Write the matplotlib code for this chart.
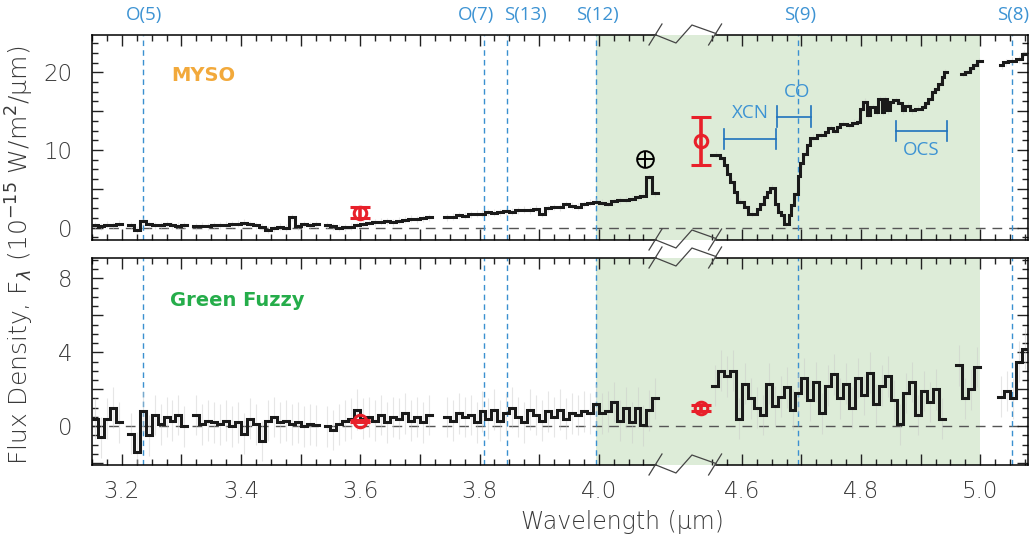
import numpy as np
import matplotlib
matplotlib.use("Agg")
import matplotlib.pyplot as plt
from matplotlib.ticker import FixedLocator, NullFormatter, FixedFormatter

nan = np.nan

# ---------------- data ----------------
SHIFT = 0.36          # wavelength removed by the axis break (um)
BREAK_LO, BREAK_HI = 4.096, 4.196   # break limits in plotted coordinate

# left part: bins of 0.01 um from 3.15 to 4.10
left_edges = np.round(np.arange(3.15, 4.1001, 0.01), 3)
myso_left = [0.3, 0.2, 0.35, 0.3, 0.5, nan,
             0.3, -0.3, 0.8, 0.4, 0.3, 0.3, 0.45, 0.3, 0.25, 0.3, nan,
             0.2, 0.25, 0.2, 0.3, 0.3, 0.35, 0.4, 0.5, 0.65, 0.4, 0.3, 0.1, -0.25, -0.1,
             0.1, 0.0, 1.3, 0.2, 0.4, 0.3, 0.45, nan,
             0.3, 0.2, 0.0, 0.05, 0.1, 0.3, 0.5, 0.6, 0.7, 0.75, 0.8, 0.7, 0.9, 1.0,
             1.15, 1.1, 1.2, 1.35, nan, nan,
             1.35, 1.4, 1.6, 1.55, 1.7, 1.8, 1.75, 2.0, 1.9, 2.0,
             2.1, 2.05, 2.2, 2.3, 2.2, 2.4, 1.8, 2.5, 2.65, 2.6,
             3.0, 2.8, 2.7, 3.0, 3.2, 3.3, 3.2, 3.1, 3.4, 3.5,
             3.6, 3.7, 3.9, 4.1, 6.5, 4.4]
fuzzy_left = [0.4, -0.6, 0.4, 1.0, 0.2, nan,
              -0.4, -1.4, 0.8, -0.5, 0.6, 0.1, 0.5, 0.3, 0.6, 0.0, nan,
              0.6, 0.1, 0.3, 0.2, 0.1, 0.3, 0.0, 0.2, -0.4, 0.4, 0.1, -0.8, 0.3, 0.5,
              0.2, 0.3, 0.1, 0.2, 0.0, 0.1, 0.05, nan,
              0.0, -0.2, 0.1, 0.3, 0.4, 0.9, 0.4, 0.5, 0.3, 0.6, 0.2, 0.5, 0.4, 0.7,
              0.3, 0.5, 0.2, 0.6, nan, nan,
              0.5, 0.3, 0.7, 0.5, 0.6, 0.2, 0.8, 0.4, 0.9, 0.3,
              0.7, 1.0, 0.5, 0.2, 0.9, 0.6, 0.3, 0.8, 0.5, 0.9,
              0.4, 0.7, 0.6, 0.8, 0.7, 1.2, 0.7, 0.8, 1.3, 0.3,
              1.0, 0.2, 1.0, 0.05, 0.85, 1.5]

# right part (MYSO): bin edges (um)
myso_right_edges = [4.5487, 4.5638, 4.5694, 4.5750, 4.5805, 4.5861, 4.5917, 4.6029, 4.6101, 4.6252,
                    4.6308, 4.6364, 4.6420, 4.6475, 4.6548, 4.6604, 4.6660, 4.6699, 4.6783, 4.6827,
                    4.6883, 4.6939, 4.6978, 4.7034, 4.7090, 4.7146, 4.7257, 4.7397, 4.7453, 4.7536,
                    4.7592, 4.7648, 4.7760, 4.7843, 4.7927, 4.7983, 4.8039, 4.8095, 4.8150, 4.8234,
                    4.8290, 4.8346, 4.8385, 4.8430, 4.8486, 4.8541, 4.8625, 4.8681, 4.8737, 4.8821,
                    4.8904, 4.9016, 4.9072, 4.9128, 4.9184, 4.9239, 4.9295, 4.9351, 4.9396, 4.9435,
                    4.9675, 4.9742, 4.9826, 4.9881, 4.9937, 5.0021,
                    5.0328, 5.0384, 5.0468, 5.0607, 5.0691, 5.0786]
myso_right = [9.4, 8.9, 8.0, 6.9, 5.9, 4.6, 3.3, 2.65, 1.8, 2.45,
              3.1, 3.9, 4.6, 5.1, 3.1, 2.0, 1.6, 0.4, 1.6, 2.9,
              4.3, 6.7, 8.3, 9.5, 10.6, 11.6, 11.9, 12.3, 12.8, 12.5,
              12.9, 13.4, 13.2, 13.5, 13.6, 15.3, 16.2, 14.5, 15.5, 14.9,
              16.5, 14.9, 16.5, 15.1, 16.2, 16.4, 16.0, 15.1, 15.7, 15.1,
              15.3, 15.5, 16.0, 16.6, 17.5, 17.9, 18.5, 19.4, 20.0, nan,
              19.8, 20.0, 20.5, 20.9, 21.4, nan,
              20.9, 21.3, 21.5, 21.7, 22.4]

# right part (Green Fuzzy): bins of 0.01 um from 4.55 to 5.08
fuzzy_right_edges = np.round(np.arange(4.55, 5.0801, 0.01), 3)
fuzzy_right = [2.2, 3.0, 2.7, 3.0, 0.4, 2.3, 1.5, 1.0, 0.6, 2.3,
               1.1, 1.6, 2.1, 0.9, 1.8, 2.6, 1.4, 2.4, 0.7, 2.2,
               2.8, 1.5, 2.3, 1.0, 2.6, 1.7, 2.9, 1.2, 2.2, 2.7,
               1.4, 0.1, 1.8, 2.4, 0.6, 1.9, 1.3, 2.0, 0.4, nan,
               nan, 3.3, 1.5, 2.0, 3.2, nan, nan, nan, 1.6, 1.9,
               1.5, 3.5, 4.2]

# typical 1-sigma of the faint grey error bars
myso_err = 0.45
fuzzy_err = 1.1

# photometry (red points)
phot_wave = [3.60, 4.532]
myso_phot = [1.9, 11.1]
myso_phot_err = [0.7, 3.1]
fuzzy_phot = [0.3, 0.97]
fuzzy_phot_err = [0.05, 0.15]

# H2 line identifications
line_names = ["O(5)", "O(7)", "S(13)", "S(12)", "S(9)", "S(8)"]
line_waves = [3.2350, 3.8075, 3.8464, 3.9960, 4.6946, 5.0531]
label_offsets = [0.002, -0.013, 0.030, 0.002, 0.003, 0.002]

# ice features
feat_names = ["XCN", "CO", "OCS"]
feat_lo = [4.5706, 4.6594, 4.8587]
feat_hi = [4.6570, 4.7157, 4.9435]
feat_y = [11.4, 14.3, 12.4]
feat_text_y = [14.8, 17.4, 10.0]

# plotted region
shade_lo, shade_hi = 3.995, 5.0
xlim_real = (3.15, 5.08)

# ---------------- helpers ----------------
def tx(x):
    x = np.asarray(x, dtype=float)
    return np.where(x > 4.3, x - SHIFT, x)

def steps(edges, vals):
    edges = tx(edges)
    vals = np.asarray(vals, dtype=float)
    xs = np.repeat(edges, 2)[1:-1]
    ys = np.repeat(vals, 2)
    return xs, ys

def centers(edges):
    e = tx(edges)
    return 0.5 * (e[1:] + e[:-1])

# ---------------- figure ----------------
W, H = 1031, 545
fig = plt.figure(figsize=(W / 100, H / 100), dpi=100)
ax1 = fig.add_axes([92 / W, 1 - 240 / H, 936 / W, 205 / H])
ax2 = fig.add_axes([92 / W, 1 - 465 / H, 936 / W, 207 / H])

BLUE_TXT = "#3d93d3"
BLUE_LINE = "#3a90d0"
BRACKET = "#1f72bd"
RED = "#e8202a"
GREEN_BG = "#ddecd8"
TICKC = "#3a3a3a"

xl = (float(tx(xlim_real[0])), float(tx(xlim_real[1])))
panels = [(ax1, myso_left, myso_right_edges, myso_right, myso_err, myso_phot, myso_phot_err, (-1.6, 24.8)),
          (ax2, fuzzy_left, fuzzy_right_edges, fuzzy_right, fuzzy_err, fuzzy_phot, fuzzy_phot_err, (-2.1, 9.1))]

major_real = [3.2, 3.3, 3.4, 3.5, 3.6, 3.7, 3.8, 3.9, 4.0, 4.6, 4.7, 4.8, 4.9, 5.0]
minor_real = [v for v in np.round(np.arange(3.15, 5.08, 0.025), 3)
              if (v <= 4.08 or v >= 4.55) and v not in major_real]
label_real = {3.2: "3.2", 3.4: "3.4", 3.6: "3.6", 3.8: "3.8", 4.0: "4.0",
              4.6: "4.6", 4.8: "4.8", 5.0: "5.0"}

for ax, lv, redges, rv, err, ph, pherr, yl in panels:
    ax.set_xlim(*xl)
    ax.set_ylim(*yl)
    ax.axvspan(float(tx(shade_lo)), float(tx(shade_hi)), color=GREEN_BG, lw=0, zorder=0)
    ax.axhline(0, color="#555555", lw=1.0, ls=(0, (7, 5)), zorder=1)
    for w in line_waves:
        ax.axvline(float(tx(w)), color=BLUE_LINE, lw=1.0, ls=(0, (4, 3)), zorder=2)
    # faint error bars
    for edges, vals in [(left_edges, lv), (redges, rv)]:
        c = centers(edges)
        v = np.asarray(vals, dtype=float)
        ok = ~np.isnan(v)
        ax.vlines(c[ok], v[ok] - err, v[ok] + err, color="#c8c8c8", lw=0.8, alpha=0.45, zorder=2)
    for edges, vals in [(left_edges, lv), (redges, rv)]:
        xs, ys = steps(edges, vals)
        ax.plot(xs, ys, color="#1a1a1a", lw=2.2, zorder=4, solid_joinstyle="miter")
    ax.errorbar(tx(phot_wave), ph, yerr=pherr, fmt="o", ms=9, mfc="none", mec=RED, mew=2.2,
                ecolor=RED, elinewidth=2.6, capsize=7, capthick=2.6, zorder=6)

    # ticks
    ax.xaxis.set_major_locator(FixedLocator(tx(major_real)))
    ax.xaxis.set_minor_locator(FixedLocator(tx(minor_real)))
    ax.tick_params(which="both", direction="in", top=True, right=True, colors="#222222",
                   labelcolor=TICKC, labelsize=16.5)
    ax.tick_params(which="major", length=8, width=1.0)
    ax.tick_params(which="minor", length=4, width=1.0)
    ax.tick_params(axis="y", pad=14)
    ax.tick_params(axis="x", pad=11)

    # broken top/bottom spines
    ax.spines["top"].set_visible(False)
    ax.spines["bottom"].set_visible(False)
    for s in ["left", "right"]:
        ax.spines[s].set_linewidth(1.1)
    trans = ax.get_xaxis_transform()
    hpx = ax.get_position().height * H
    for y0 in (0.0, 1.0):
        ax.plot([xl[0], BREAK_LO], [y0, y0], color="black", lw=1.1, transform=trans, clip_on=False, zorder=7)
        ax.plot([BREAK_HI, xl[1]], [y0, y0], color="black", lw=1.1, transform=trans, clip_on=False, zorder=7)
        zx = [BREAK_LO, BREAK_LO + 20 / 597, BREAK_LO + 36 / 597, BREAK_LO + 60 / 597]
        zy = [y0, y0 - 8 / hpx, y0 + 10 / hpx, y0 + 1.5 / hpx]
        ax.plot(zx, zy, color="#444444", lw=0.9, transform=trans, clip_on=False, zorder=7)
        for xb in (BREAK_LO, BREAK_HI):
            ax.plot([xb - 7 / 597, xb + 6 / 597], [y0 - 10 / hpx, y0 + 11 / hpx], color="#444444",
                    lw=0.9, transform=trans, clip_on=False, zorder=7)

# y ticks
ax1.yaxis.set_major_locator(FixedLocator([0, 5, 10, 15, 20]))
ax1.yaxis.set_minor_locator(FixedLocator(np.arange(-1.25, 25, 1.25)))
ax1.yaxis.set_major_formatter(FixedFormatter(["0", "", "10", "", "20"]))
ax2.yaxis.set_major_locator(FixedLocator([-2, 0, 2, 4, 6, 8]))
ax2.yaxis.set_minor_locator(FixedLocator(np.arange(-2, 9.1, 0.5)))
ax2.yaxis.set_major_formatter(FixedFormatter(["", "0", "", "4", "", "8"]))

ax1.xaxis.set_major_formatter(NullFormatter())
ax2.xaxis.set_major_formatter(FixedFormatter([label_real.get(v, "") for v in major_real]))
for ax in (ax1, ax2):
    for lab in ax.get_xticklabels() + ax.get_yticklabels():
        lab.set_fontweight(200)

# line IDs above the top panel
for name, w, off in zip(line_names, line_waves, label_offsets):
    ax1.text(float(tx(w + off)), 1.0 + 20 / 205, name, transform=ax1.get_xaxis_transform(),
             ha="center", va="center", fontsize=13.5, color=BLUE_TXT, family="Open Sans")

# ice feature brackets
for name, lo, hi, y, ty in zip(feat_names, feat_lo, feat_hi, feat_y, feat_text_y):
    a, b = float(tx(lo)), float(tx(hi))
    ax1.plot([a, b], [y, y], color=BRACKET, lw=1.2, zorder=5)
    for xe in (a, b):
        ax1.plot([xe, xe], [y - 1.3, y + 1.3], color=BRACKET, lw=1.2, zorder=5)
    ax1.text(0.5 * (a + b) + (0.005 if name == "CO" else 0), ty, name, ha="center", va="center",
             fontsize=13.5, color=BLUE_TXT, family="Open Sans", zorder=5)

# oplus marker
ax1.plot([float(tx(4.078))], [8.8], marker="o", ms=12, mfc="none", mec="black", mew=1.4, zorder=6)
ax1.plot([float(tx(4.078))], [8.8], marker="+", ms=12, mec="black", mew=1.4, zorder=6)

# panel labels
ax1.text(3.283, 19.6, "MYSO", color="#f2a93b", fontsize=14, fontweight="semibold", ha="left", va="center")
ax2.text(3.280, 6.8, "Green Fuzzy", color="#25ad4a", fontsize=14, fontweight="semibold", ha="left", va="center")

# axis labels
fig.text(20 / W, 1 - 255 / H, "Flux Density, F$_\\lambda$ (10$^{-15}$ W/m$^2$/\u03bcm)",
         rotation=90, ha="center", va="center", fontsize=18, color=TICKC, fontweight=200)
fig.text(622 / W, 1 - 522 / H, "Wavelength (\u03bcm)", ha="center", va="center",
         fontsize=17, color=TICKC, fontweight=200)

fig.savefig("out.png", dpi=100)
